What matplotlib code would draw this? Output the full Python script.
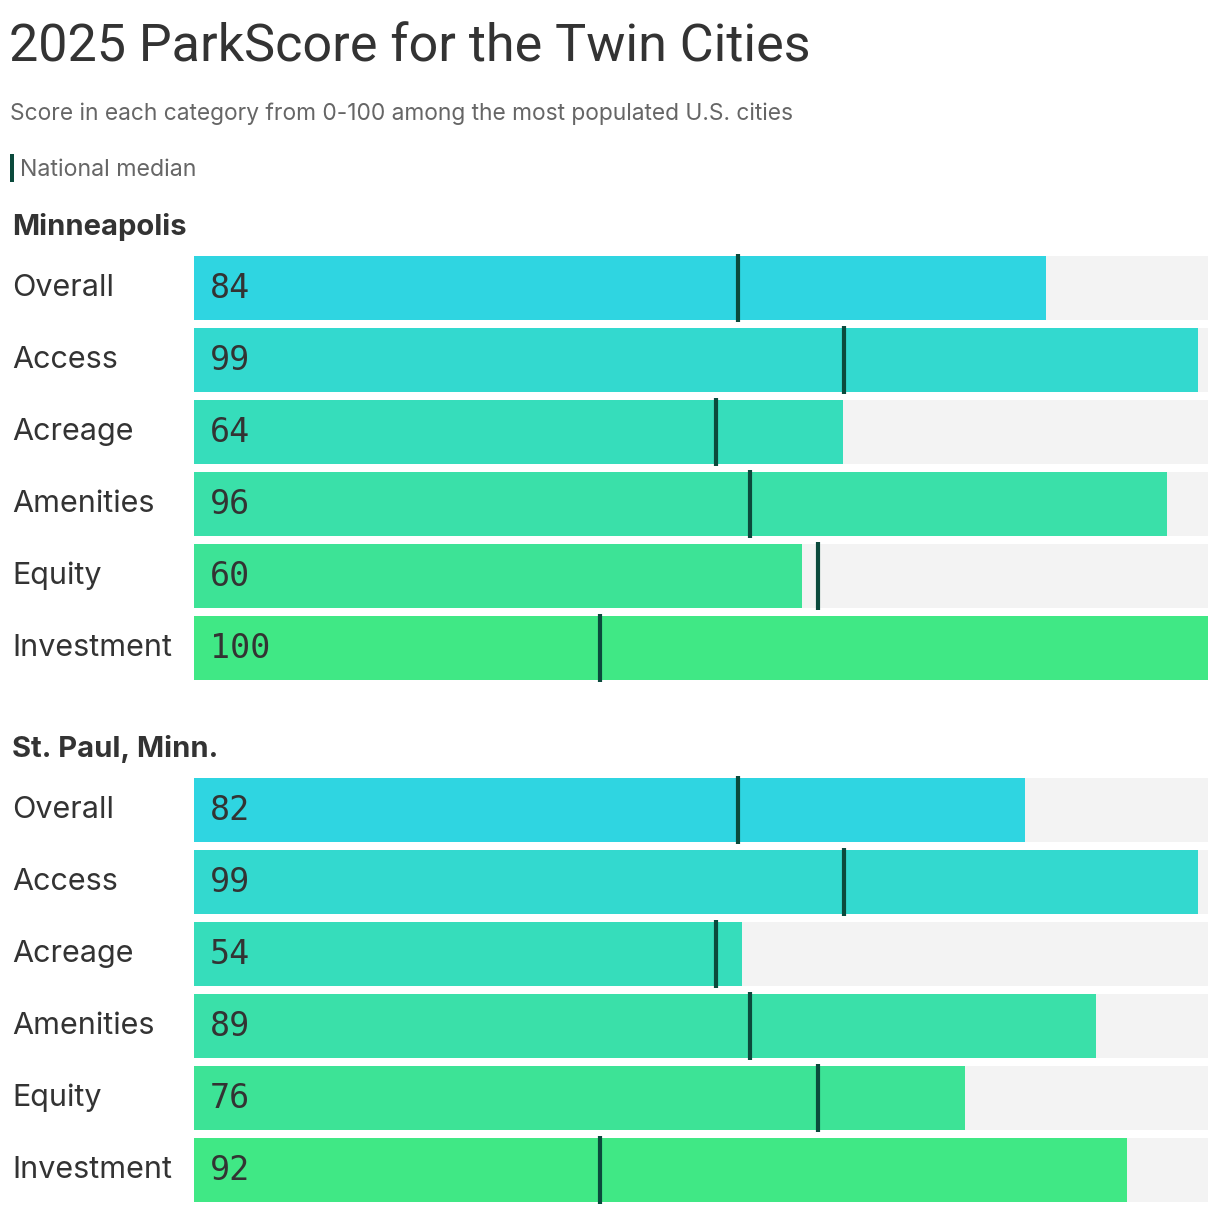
import matplotlib
matplotlib.use("Agg")
import matplotlib.pyplot as plt

categories = ["Overall", "Access", "Acreage", "Amenities", "Equity", "Investment"]
cities = ["Minneapolis", "St. Paul, Minn."]
minneapolis_scores = [84, 99, 64, 96, 60, 100]
stpaul_scores = [82, 99, 54, 89, 76, 92]
national_median = [53.6, 64.1, 51.5, 54.8, 61.5, 40.0]
bar_colors = ["#2fd5e1", "#33d9cf", "#36ddbb", "#3ae0a9", "#3de396", "#40e885"]

W, H = 1220, 1214
fig = plt.figure(figsize=(W / 100, H / 100), dpi=100)
fig.patch.set_facecolor("white")

SANS = ["Inter", "DejaVu Sans"]
TITLE = ["Roboto", "DejaVu Sans"]
MONO = ["DejaVu Sans Mono"]
DARK = "#333333"
GRAY = "#666666"
MED = "#0b4a3c"


def fx(px):
    return px / W


def fy(py):
    return 1 - py / H


# Header texts
fig.text(fx(9), fy(61), "2025 ParkScore for the Twin Cities", fontsize=37.5,
         family=TITLE, color=DARK, va="baseline", ha="left")
fig.text(fx(10), fy(120), "Score in each category from 0-100 among the most populated U.S. cities",
         fontsize=16.4, family=SANS, color=GRAY, va="baseline", ha="left")
fig.add_artist(plt.Rectangle((fx(10), fy(182)), 4 / W, 28 / H, transform=fig.transFigure,
                             color=MED, lw=0))
fig.text(fx(20), fy(176), "National median", fontsize=16.7, family=SANS, color=GRAY,
         va="baseline", ha="left")

all_scores = [minneapolis_scores, stpaul_scores]
row0 = [256, 778]  # top pixel of first bar per city
pitch = 72
bar_h = 64

for ci, (city, scores) in enumerate(zip(cities, all_scores)):
    top = row0[ci] - 4
    bottom = top + pitch * len(categories)
    ax = fig.add_axes([fx(194), fy(bottom), 1014 / W, (bottom - top) / H])
    ax.set_xlim(0, 100)
    ax.set_ylim(len(categories) - 0.5, -0.5)
    ax.axis("off")
    ys = list(range(len(categories)))
    ax.barh(ys, [100] * len(ys), height=bar_h / pitch, color="#f3f3f3", lw=0)
    ax.barh(ys, scores, height=bar_h / pitch, color=bar_colors, lw=0)
    for y, m in zip(ys, national_median):
        ax.vlines(m, y - 34 / pitch, y + 34 / pitch, color=MED, lw=3, clip_on=False)
    # city header
    fig.text(fx(12), fy(235 + 522 * ci), city, fontsize=21, family=SANS, weight="bold",
             color=DARK, va="baseline", ha="left")
    for i, (cat, s) in enumerate(zip(categories, scores)):
        cy = row0[ci] + pitch * i + bar_h / 2
        fig.text(fx(12), fy(cy + 8), cat, fontsize=22, family=SANS, color=DARK,
                 va="baseline", ha="left")
        fig.text(fx(210), fy(cy + 10), str(s), fontsize=24, family=MONO, color=DARK,
                 va="baseline", ha="left")

fig.savefig("out.png", dpi=100, facecolor="white")
